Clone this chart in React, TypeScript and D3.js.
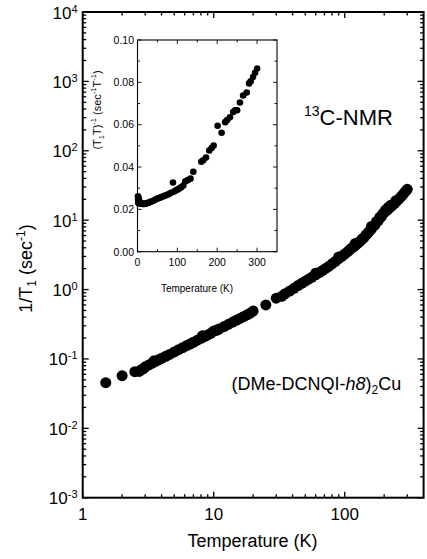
import React from "react";
import * as d3 from "d3";

// Main plot: 1/T1 vs Temperature (log-log)
const mainT = [
  1.5, 2.0, 2.5, 2.7, 2.8, 2.9, 3.0, 3.2, 3.4, 3.5, 3.6, 3.8, 4.0, 4.3, 4.6, 5.0, 5.4, 5.8, 6.2, 6.6,
  7.0, 7.5, 8.0, 8.2, 8.5, 9.0, 9.5, 10, 10.5, 11, 12, 13, 14, 15, 16, 17, 18, 19, 20, 25, 30,
  33, 35, 38, 41, 44, 47, 50, 53, 56, 60, 64, 68, 72, 76, 80, 85, 90, 95, 100, 105, 110, 115, 120,
  125, 130, 135, 140, 145, 150, 155, 160, 170, 180, 190, 195, 200, 210, 220, 230, 240, 250, 260,
  270, 280, 290, 300,
  60, 90, 120, 160, 175, 185, 205, 215, 225, 245,
];
const mainRate = [
  0.0454, 0.0573, 0.0654, 0.066, 0.07, 0.072, 0.077, 0.082, 0.087, 0.094, 0.092, 0.097, 0.102, 0.109, 0.116, 0.126, 0.136, 0.145, 0.155, 0.164,
  0.174, 0.186, 0.198, 0.215, 0.21, 0.222, 0.234, 0.252, 0.258, 0.27, 0.293, 0.317, 0.34, 0.363, 0.386, 0.41, 0.433, 0.456, 0.49, 0.6, 0.75,
  0.8, 0.87, 0.95, 1.04, 1.14, 1.23, 1.32, 1.41, 1.5, 1.63, 1.76, 1.89, 2.03, 2.17, 2.35, 2.55, 2.78, 3.0, 3.25, 3.5, 3.8, 4.05, 4.3,
  4.6, 4.9, 5.3, 5.6, 6.1, 6.5, 7.0, 7.5, 8.5, 9.8, 11.2, 12.3, 12.8, 13.8, 15.0, 16.2, 17.5, 18.8, 20.3,
  22.0, 23.8, 25.8, 27.8,
  1.72, 2.95, 4.6, 8.1, 9.6, 11.0, 14.0, 15.3, 16.4, 19.0,
];

// Inset: (T1 T)^-1 vs Temperature (linear)
const insetT = [
  1, 1.5, 2, 2, 3, 3, 4, 5, 6, 8, 10, 12, 14, 16, 18, 20, 22, 25, 28, 30, 33, 36, 40, 44, 48, 52, 56, 60,
  64, 68, 72, 76, 80, 84, 89, 92, 96, 100, 105, 110, 115, 120, 126, 133, 140, 160, 165, 172, 180, 186,
  191, 201, 211, 220, 225, 232, 240, 245, 250, 257, 265, 274, 280, 284, 290, 295, 300,
];
const insetRate = [
  0.0262, 0.0245, 0.0258, 0.0232, 0.0248, 0.0228, 0.0242, 0.0236, 0.0232, 0.0229, 0.0227, 0.0226, 0.0225, 0.0226, 0.0226, 0.0227, 0.0228, 0.023, 0.0231, 0.0233, 0.0236, 0.0238, 0.0241, 0.0245, 0.0249, 0.0252, 0.0255, 0.0258,
  0.0261, 0.0264, 0.0267, 0.027, 0.0274, 0.0278, 0.0327, 0.0284, 0.0289, 0.0293, 0.0299, 0.0305, 0.0313, 0.0332, 0.0338, 0.0345, 0.0378, 0.0425, 0.0432, 0.0445, 0.0478, 0.049,
  0.0502, 0.0595, 0.0562, 0.0612, 0.0622, 0.0635, 0.066, 0.0668, 0.0668, 0.0705, 0.0738, 0.0752, 0.0795, 0.0805, 0.0825, 0.0845, 0.0865,
];

const mainXTicks = [1, 10, 100];
const mainYExps = [-3, -2, -1, 0, 1, 2, 3, 4];
const insetXTicks = [0, 100, 200, 300];
const insetYTicks = [0, 0.02, 0.04, 0.06, 0.08, 0.1];

const FONT = "'Liberation Sans', Arial, Helvetica, sans-serif";

export default function App() {
  const W = 427, H = 559;
  const L = 82.7, R = 423.6, T = 12, B = 497.7;
  const x = d3.scaleLog().domain([1, 400]).range([L, R]);
  const y = d3.scaleLog().domain([1e-3, 1e4]).range([B, T]);

  const iL = 137.5, iR = 277, iT = 40, iB = 251.7;
  const ix = d3.scaleLinear().domain([0, 350]).range([iL, iR]);
  const iy = d3.scaleLinear().domain([0, 0.1]).range([iB, iT]);

  const xMinor: number[] = [];
  for (let e = 0; e <= 2; e++) for (let k = 2; k <= 9; k++) { const v = k * Math.pow(10, e); if (v < 400) xMinor.push(v); }
  const yMinor: number[] = [];
  for (let e = -3; e < 4; e++) for (let k = 2; k <= 9; k++) yMinor.push(k * Math.pow(10, e));
  const ixMinor = [50, 150, 250];
  const iyMinor = [0.01, 0.03, 0.05, 0.07, 0.09];

  const maj = 6, mn = 3.5;
  const stroke = "#000";

  return (
    <svg width={W} height={H} style={{ position: "absolute", left: 0, top: 0, background: "#fff" }} fontFamily={FONT}>
      <rect x={0} y={0} width={W} height={H} fill="#fff" />
      <g stroke={stroke} strokeWidth={1.3}>
        {mainXTicks.map((v) => (
          <g key={"mx" + v}>
            <line x1={x(v)} x2={x(v)} y1={B} y2={B - maj} />
            <line x1={x(v)} x2={x(v)} y1={T} y2={T + maj} />
          </g>
        ))}
        {xMinor.map((v) => (
          <g key={"mnx" + v}>
            <line x1={x(v)} x2={x(v)} y1={B} y2={B - mn} />
            <line x1={x(v)} x2={x(v)} y1={T} y2={T + mn} />
          </g>
        ))}
        {mainYExps.map((e) => (
          <g key={"my" + e}>
            <line x1={L} x2={L + maj} y1={y(Math.pow(10, e))} y2={y(Math.pow(10, e))} />
            <line x1={R} x2={R - maj} y1={y(Math.pow(10, e))} y2={y(Math.pow(10, e))} />
          </g>
        ))}
        {yMinor.map((v, i) => (
          <g key={"mny" + i}>
            <line x1={L} x2={L + mn} y1={y(v)} y2={y(v)} />
            <line x1={R} x2={R - mn} y1={y(v)} y2={y(v)} />
          </g>
        ))}
      </g>
      <rect x={L} y={T} width={R - L} height={B - T} fill="none" stroke={stroke} strokeWidth={2} />

      {mainXTicks.map((v) => (
        <text key={"xl" + v} x={x(v)} y={520} fontSize={17} textAnchor="middle">{String(v)}</text>
      ))}
      {mainYExps.map((e) => (
        <text key={"yl" + e} x={77.5} y={y(Math.pow(10, e)) + 6.5} fontSize={17} textAnchor="end">
          10<tspan dy={-6} fontSize={11}>{String(e)}</tspan>
        </text>
      ))}
      <text x={252.5} y={547} fontSize={18} textAnchor="middle">Temperature (K)</text>
      <text transform={`translate(32,268.5) rotate(-90)`} fontSize={18} textAnchor="middle">
        1/T<tspan dy={4} fontSize={12}>1</tspan><tspan dy={-4}> (sec</tspan><tspan dy={-7} fontSize={12}>-1</tspan><tspan dy={7}>)</tspan>
      </text>

      <g fill="#000">
        {mainT.map((t, i) => (
          <circle key={"m" + i} cx={x(t)} cy={y(mainRate[i])} r={5.5} />
        ))}
      </g>

      <text x={304} y={125} fontSize={22}>
        <tspan fontSize={14} dy={-9}>13</tspan><tspan dy={9}>C-NMR</tspan>
      </text>
      <text x={231.5} y={389.5} fontSize={18}>
        (DMe-DCNQI-<tspan fontStyle="italic">h8</tspan>)<tspan dy={4} fontSize={12}>2</tspan><tspan dy={-4}>Cu</tspan>
      </text>

      <rect x={iL} y={iT} width={iR - iL} height={iB - iT} fill="#fff" stroke="none" />
      <g stroke={stroke} strokeWidth={0.9}>
        {insetXTicks.map((v) => (
          <g key={"ix" + v}>
            <line x1={ix(v)} x2={ix(v)} y1={iB} y2={iB - 4} />
            <line x1={ix(v)} x2={ix(v)} y1={iT} y2={iT + 4} />
          </g>
        ))}
        {ixMinor.map((v) => (
          <g key={"ixm" + v}>
            <line x1={ix(v)} x2={ix(v)} y1={iB} y2={iB - 2.5} />
            <line x1={ix(v)} x2={ix(v)} y1={iT} y2={iT + 2.5} />
          </g>
        ))}
        {insetYTicks.map((v) => (
          <g key={"iy" + v}>
            <line x1={iL} x2={iL + 4} y1={iy(v)} y2={iy(v)} />
            <line x1={iR} x2={iR - 4} y1={iy(v)} y2={iy(v)} />
          </g>
        ))}
        {iyMinor.map((v) => (
          <g key={"iym" + v}>
            <line x1={iL} x2={iL + 2.5} y1={iy(v)} y2={iy(v)} />
            <line x1={iR} x2={iR - 2.5} y1={iy(v)} y2={iy(v)} />
          </g>
        ))}
      </g>
      <rect x={iL} y={iT} width={iR - iL} height={iB - iT} fill="none" stroke={stroke} strokeWidth={1.1} />
      {insetXTicks.map((v) => (
        <text key={"ixl" + v} x={ix(v)} y={266} fontSize={10.5} textAnchor="middle">{String(v)}</text>
      ))}
      {insetYTicks.map((v) => (
        <text key={"iyl" + v} x={134} y={iy(v) + 3.8} fontSize={10.5} textAnchor="end">{v.toFixed(2)}</text>
      ))}
      <text x={197} y={292} fontSize={10} textAnchor="middle">Temperature (K)</text>
      <text transform={`translate(100.5,110) rotate(-90)`} fontSize={11} textAnchor="middle">
        (T<tspan dy={3} fontSize={7.5}>1</tspan><tspan dy={-3}>T)</tspan><tspan dy={-4.5} fontSize={7.5}>-1</tspan><tspan dy={4.5}> (sec</tspan><tspan dy={-4.5} fontSize={7.5}>-1</tspan><tspan dy={4.5}>T</tspan><tspan dy={-4.5} fontSize={7.5}>-1</tspan><tspan dy={4.5}>)</tspan>
      </text>
      <g fill="#000">
        {insetT.map((t, i) => (
          <circle key={"i" + i} cx={ix(t)} cy={iy(insetRate[i])} r={3.3} />
        ))}
      </g>
    </svg>
  );
}
